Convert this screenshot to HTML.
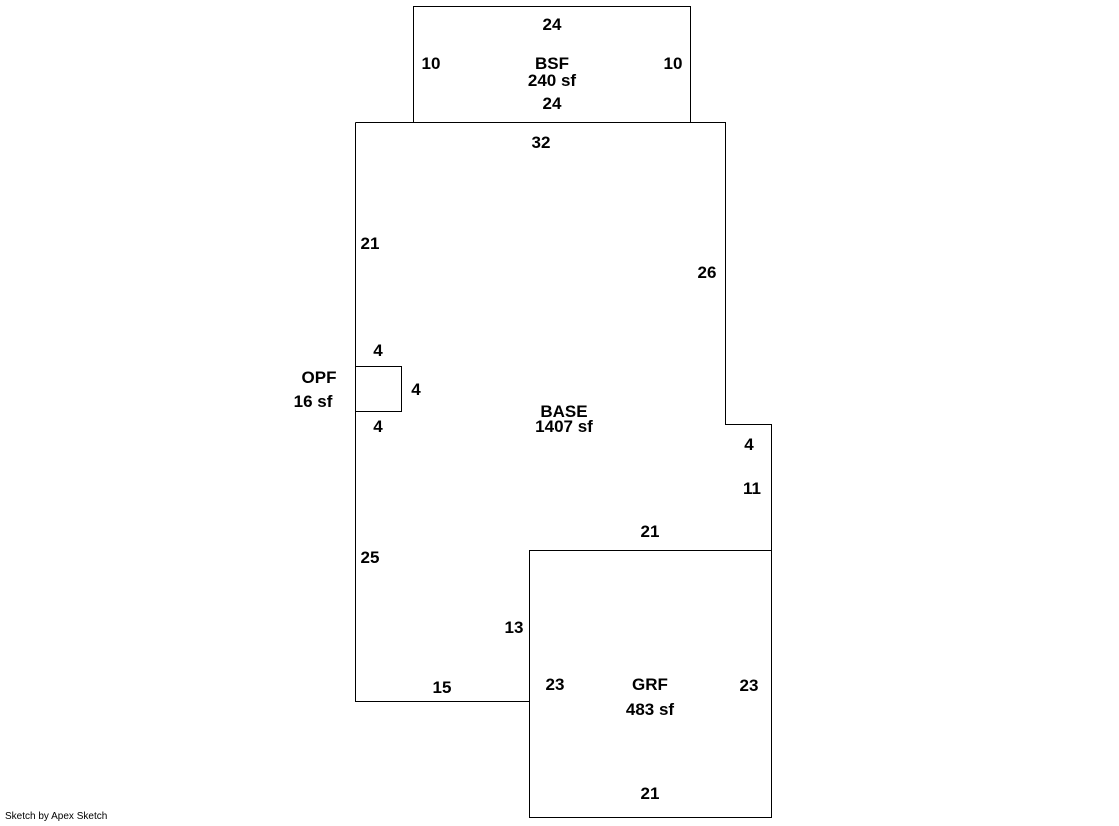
<!DOCTYPE html>
<html><head><style>
body{margin:0;background:#fff;}
svg text{font-family:"Liberation Sans",Arial,sans-serif;font-weight:bold;font-size:17px;fill:#000;}
</style></head><body>
<svg width="1119" height="821" viewBox="0 0 1119 821" xmlns="http://www.w3.org/2000/svg">
<g fill="none" stroke="#000" stroke-width="1">
<rect x="413.5" y="6.5" width="277" height="116"/>
<polyline points="355.5,122.5 725.5,122.5 725.5,424.5 771.5,424.5 771.5,550.5 529.5,550.5 529.5,701.5 355.5,701.5 355.5,122.5"/>
<rect x="529.5" y="550.5" width="242" height="267"/>
<rect x="355.5" y="366.5" width="46" height="45"/>
</g>
<g text-anchor="middle" transform="translate(0,-1)">
<text x="552" y="31">24</text>
<text x="431" y="70">10</text>
<text x="673" y="70">10</text>
<text x="552" y="70">BSF</text>
<text x="552" y="87">240 sf</text>
<text x="552" y="110">24</text>
<text x="541" y="149">32</text>
<text x="370" y="250">21</text>
<text x="707" y="279">26</text>
<text x="378" y="357">4</text>
<text x="416" y="396">4</text>
<text x="378" y="433">4</text>
<text x="319" y="384">OPF</text>
<text x="313" y="408">16 sf</text>
<text x="564" y="418">BASE</text>
<text x="564" y="433">1407 sf</text>
<text x="749" y="451">4</text>
<text x="752" y="495">11</text>
<text x="650" y="538">21</text>
<text x="370" y="564">25</text>
<text x="514" y="634">13</text>
<text x="442" y="694">15</text>
<text x="555" y="691">23</text>
<text x="650" y="691">GRF</text>
<text x="749" y="692">23</text>
<text x="650" y="716">483 sf</text>
<text x="650" y="800">21</text>
</g>
<text x="5" y="819" style="font-size:10px;font-weight:normal">Sketch by Apex Sketch</text>
</svg>
</body></html>
